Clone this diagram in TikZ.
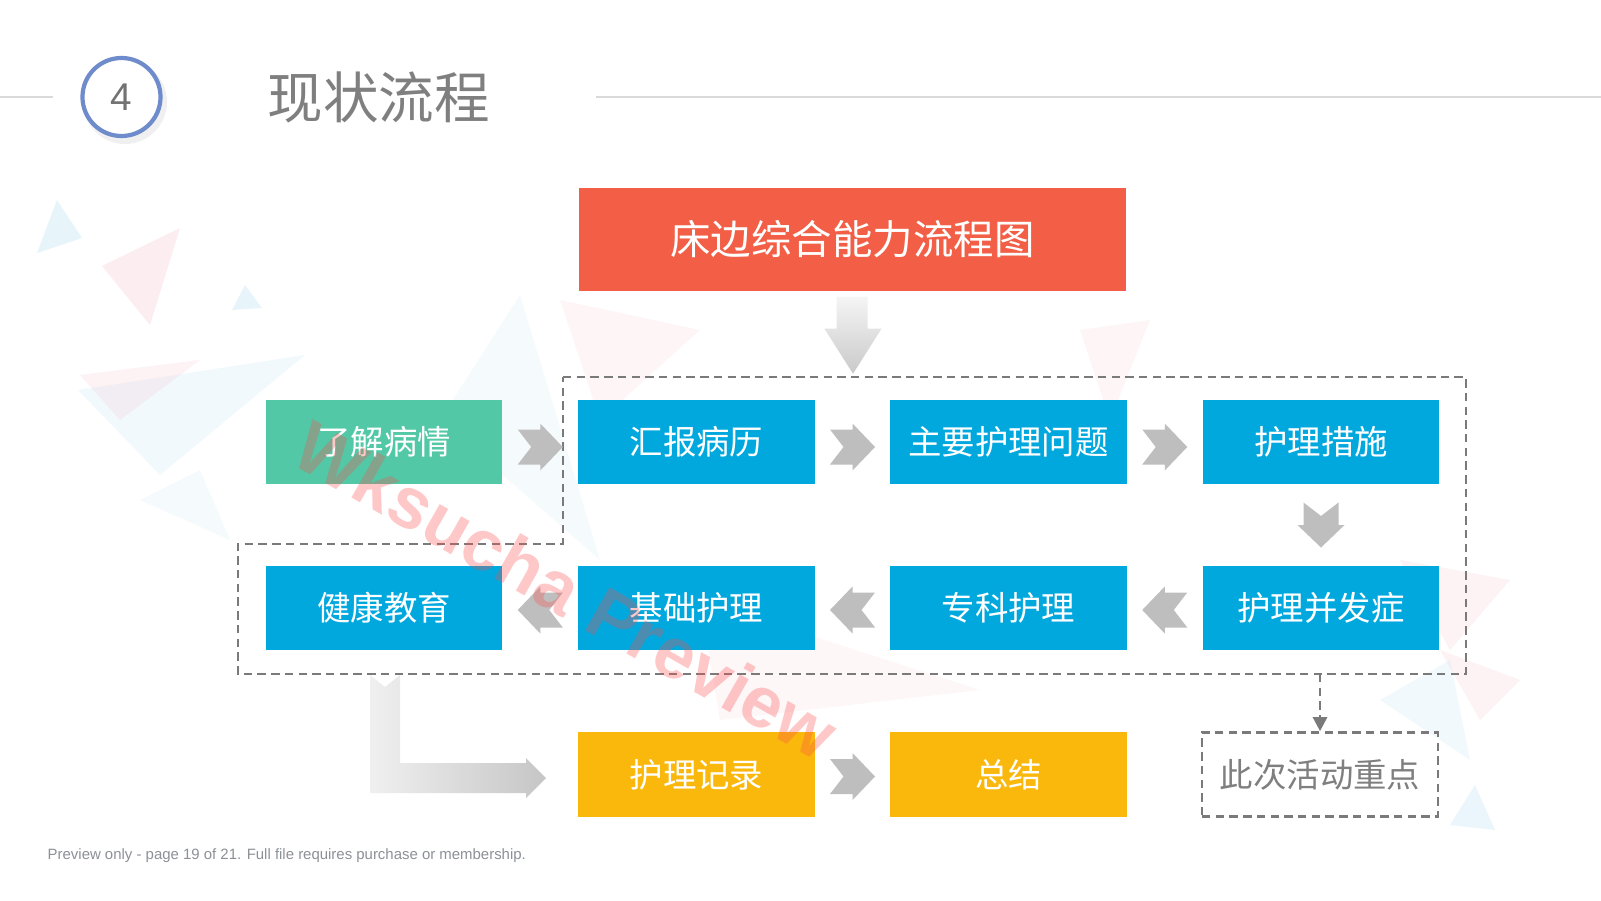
\documentclass[tikz,border=0pt]{standalone}
\usepackage{fontspec}
\setmainfont{Noto Sans CJK SC}
\newfontfamily\lib{Liberation Sans}
\usetikzlibrary{calc,arrows.meta}
\definecolor{boxblue}{HTML}{00A8DE}
\definecolor{boxgreen}{HTML}{52C8A6}
\definecolor{boxred}{HTML}{F25F46}
\definecolor{boxyellow}{HTML}{F9B80B}
\definecolor{arrgray}{HTML}{BEBEBE}
\definecolor{dashgray}{HTML}{7A7A7A}
\definecolor{txtgray}{HTML}{7F7F7F}
\definecolor{ringblue}{HTML}{6E8CCB}
\definecolor{linegray}{HTML}{DADADA}
\definecolor{footgray}{HTML}{8C9097}
\definecolor{tblue}{HTML}{BDE3F6}
\definecolor{tpink}{HTML}{F8CDD6}
\tikzset{
  flowbox/.style={minimum width=2.36cm, minimum height=0.84cm, inner sep=0pt, text=white,
    font=\fontsize{9.5pt}{11pt}\selectfont},
  chev/.pic={\fill[arrgray] (-22.5,-17.5) -- (0,-17.5) -- (0,-23.5) -- (22.5,0) -- (0,23.5) -- (0,17.5) -- (-22.5,17.5) -- (-9,0) -- cycle;},
  dashline/.style={draw=dashgray, line width=0.75pt, dash pattern=on 2.4pt off 1.5pt},
  bgtri/.style={fill opacity=0.35}
}
\begin{document}
\begin{tikzpicture}[x=0.01cm,y=-0.01cm]
\useasboundingbox (0,0) rectangle (1601,900);
\fill[white] (0,0) rectangle (1601,900);
% faint background triangles
\fill[tblue,bgtri] (37,253) -- (57,200) -- (82,238) -- cycle;
\fill[tpink,bgtri] (102,266) -- (180,228) -- (150,325) -- cycle;
\fill[tblue,bgtri] (232,310) -- (245,285) -- (262,308) -- cycle;
\fill[tblue,fill opacity=0.2] (78,390) -- (305,355) -- (160,475) -- cycle;
\fill[tpink,fill opacity=0.25] (80,375) -- (200,360) -- (120,420) -- cycle;
\fill[tblue,fill opacity=0.15] (440,420) -- (520,295) -- (600,560) -- cycle;
\fill[tpink,fill opacity=0.2] (560,300) -- (700,330) -- (600,420) -- cycle;
\fill[tpink,fill opacity=0.2] (1080,330) -- (1150,320) -- (1110,420) -- cycle;
\fill[tpink,fill opacity=0.25] (1400,560) -- (1510,580) -- (1450,650) -- cycle;
\fill[tpink,fill opacity=0.25] (1440,650) -- (1520,680) -- (1480,720) -- cycle;
\fill[tblue,fill opacity=0.3] (1450,825) -- (1475,785) -- (1495,830) -- cycle;
\fill[tblue,fill opacity=0.2] (1380,700) -- (1450,660) -- (1470,760) -- cycle;
\fill[tpink,fill opacity=0.15] (700,600) -- (980,690) -- (720,720) -- cycle;
\fill[tblue,fill opacity=0.15] (140,500) -- (200,470) -- (230,540) -- cycle;
% header
\draw[linegray, line width=0.85pt] (0,97) -- (53,97);
\draw[linegray, line width=0.85pt] (596,97) -- (1601,97);
\fill[black, opacity=0.06] (125,102) circle (42);
\node[circle, draw=ringblue, line width=1.2pt, fill=white, minimum size=0.78cm, inner sep=0pt,
  text=txtgray!90!black, font=\lib\fontsize{11pt}{13pt}\selectfont] (num) at (121.5,97) {4};
\node[anchor=west, inner sep=0pt, text=txtgray, font=\fontsize{15.8pt}{18pt}\selectfont] (title) at (267,97) {现状流程};
% title box
\node[flowbox, fill=boxred, minimum width=5.47cm, minimum height=1.03cm,
  font=\fontsize{11.5pt}{13pt}\selectfont] (top) at (852.5,239.5) {床边综合能力流程图};
% row 1
\node[flowbox, fill=boxgreen] (a1) at (384,442) {了解病情};
\node[flowbox, fill=boxblue] (a2) at (696.5,442) {汇报病历};
\node[flowbox, fill=boxblue] (a3) at (1008.5,442) {主要护理问题};
\node[flowbox, fill=boxblue] (a4) at (1321,442) {护理措施};
% row 2
\node[flowbox, fill=boxblue] (b1) at (384,608) {健康教育};
\node[flowbox, fill=boxblue] (b2) at (696.5,608) {基础护理};
\node[flowbox, fill=boxblue] (b3) at (1008.5,608) {专科护理};
\node[flowbox, fill=boxblue] (b4) at (1321,608) {护理并发症};
% row 3
\node[flowbox, fill=boxyellow] (c2) at (696.5,774.5) {护理记录};
\node[flowbox, fill=boxyellow] (c3) at (1008.5,774.5) {总结};
\node[flowbox, dashline, text=txtgray] (focus) at (1320,774.5) {此次活动重点};
% dashed region
\draw[dashline] (563,377) -- (1466,377) -- (1466,674) -- (238,674) -- (238,544) -- (563,544) -- cycle;
\coordinate (bnd) at (focus.north |- 0,674);
\draw[dashline, -{Triangle[length=4pt,width=4pt]}] (bnd) -- (focus.north);
% down arrow from title
\shade[top color=gray!8, bottom color=gray!42]
  ($(top.south)+(-16,5)$) -- ++(31,0) -- ++(0,32) -- ++(14,0) -- ($(top.south)+(0.5,82)$)
  -- ($(top.south)+(-28,37)$) -- ++(12,0) -- cycle;
% chevrons
\path ($(a1.east)!0.5!(a2.west)+(0,5)$) pic {chev};
\path ($(a2.east)!0.5!(a3.west)+(0,5)$) pic {chev};
\path ($(a3.east)!0.5!(a4.west)+(0,5)$) pic {chev};
\path ($(a4.south)!0.5!(b4.north)$) pic[rotate=-90] {chev};
\path ($(b4.west)!0.5!(b3.east)+(0,2)$) pic[rotate=180] {chev};
\path ($(b3.west)!0.5!(b2.east)+(0,2)$) pic[rotate=180] {chev};
\path ($(b2.west)!0.5!(b1.east)+(0,2)$) pic[rotate=180] {chev};
\path ($(c2.east)!0.5!(c3.west)+(0,2)$) pic {chev};
% L-shaped arrow
\shade[left color=gray!12, right color=gray!45]
  (370,675) -- (385,687) -- (400,675) -- (400,763) -- (526,763) -- (526,758)
  -- (546,778) -- (526,798) -- (526,793) -- (370,793) -- cycle;
% footer
\node[anchor=west, inner sep=0pt, text=footgray, font=\lib\fontsize{4.25pt}{5pt}\selectfont] (foot) at (47,856)
  {Preview only - page 19 of 21. Full file requires purchase or membership.};
% watermark
\node[rotate=-29.5, text=red!70, opacity=0.3, font=\lib\bfseries\fontsize{20.5pt}{24pt}\selectfont] (wm) at (566,590) {Wksucha Preview};
\end{tikzpicture}
\end{document}
